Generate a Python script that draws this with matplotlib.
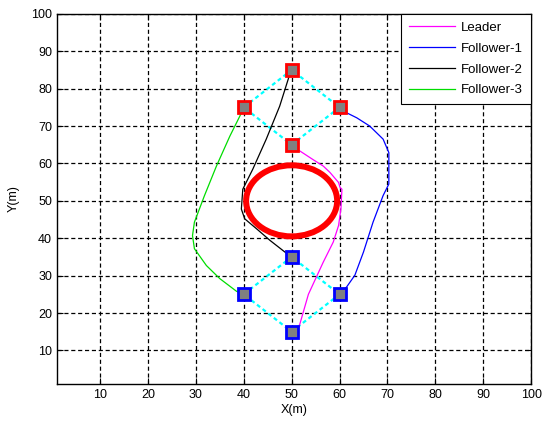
import matplotlib
matplotlib.use('Agg')
import matplotlib.pyplot as plt
from matplotlib.patches import Circle

plt.rcParams['font.family'] = ['Liberation Sans', 'DejaVu Sans']

# formation: start (blue edge) and goal (red edge) positions
start_x = [50, 60, 50, 40]
start_y = [15, 25, 35, 25]
goal_x = [50, 60, 50, 40]
goal_y = [65, 75, 85, 75]

# obstacle
obs_center = (50, 50)
obs_radius = 9.5

# trajectories
leader_x = [50.0, 51.5, 53.5, 56.6, 58.7, 59.8, 60.3, 60.5, 60.1, 59.8, 58.0, 56.6, 54.5, 51.4, 50.0]
leader_y = [15.0, 16.1, 25.0, 33.6, 39.0, 43.4, 48.0, 53.1, 53.6, 54.9, 57.6, 59.3, 61.0, 63.6, 65.0]

f1_x = [60.0, 61.5, 63.2, 65.0, 67.0, 69.1, 70.3, 70.3, 69.1, 66.3, 63.6, 61.4, 60.0]
f1_y = [25.0, 27.0, 30.1, 36.3, 44.3, 51.4, 54.5, 62.9, 66.5, 70.0, 72.2, 73.6, 75.0]

f2_x = [50.0, 48.6, 45.5, 42.7, 40.2, 39.5, 39.8, 41.9, 44.7, 47.5, 49.6, 50.0]
f2_y = [35.0, 36.3, 39.4, 42.5, 45.2, 47.8, 53.1, 58.5, 66.5, 75.3, 83.8, 85.0]

f3_x = [40.0, 38.5, 35.0, 32.2, 29.7, 29.3, 29.7, 31.8, 34.3, 37.1, 39.2, 40.0]
f3_y = [25.0, 25.8, 29.2, 32.7, 37.2, 40.7, 44.3, 51.4, 59.3, 67.3, 72.7, 75.0]

ticks = [10, 20, 30, 40, 50, 60, 70, 80, 90, 100]

fig = plt.figure(figsize=(5.5, 4.33), dpi=100)
ax = fig.add_axes([0.1036, 0.113, 0.862, 0.855])

# diamond outlines of the formation
order = [0, 1, 2, 3, 0]
ax.plot([start_x[i] for i in order], [start_y[i] for i in order],
        color='cyan', linestyle=(0, (1.8, 1.4)), linewidth=1.6, zorder=2)
ax.plot([goal_x[i] for i in order], [goal_y[i] for i in order],
        color='cyan', linestyle=(0, (1.8, 1.4)), linewidth=1.6, zorder=2)

ax.add_patch(Circle(obs_center, obs_radius, fill=False, edgecolor='red',
                    linewidth=4.3, zorder=3))

ax.plot(leader_x, leader_y, color='magenta', linewidth=0.9, label='Leader', zorder=4)
ax.plot(f1_x, f1_y, color='blue', linewidth=0.9, label='Follower-1', zorder=4)
ax.plot(f2_x, f2_y, color='black', linewidth=0.9, label='Follower-2', zorder=4)
ax.plot(f3_x, f3_y, color='#00dd00', linewidth=0.9, label='Follower-3', zorder=4)

ax.plot(start_x, start_y, linestyle='none', marker='s', markersize=9,
        markerfacecolor='#808080', markeredgecolor='blue', markeredgewidth=2, zorder=5)
ax.plot(goal_x, goal_y, linestyle='none', marker='s', markersize=9,
        markerfacecolor='#808080', markeredgecolor='red', markeredgewidth=2, zorder=5)

ax.set_xlim(1, 100)
ax.set_ylim(1, 100)
ax.set_xticks(ticks)
ax.set_yticks(ticks)
ax.tick_params(direction='in', top=True, right=True, labelsize=9, length=4)
ax.grid(True, color='black', linestyle=(0, (3.3, 2.2)), linewidth=0.9)
for s in ax.spines.values():
    s.set_linewidth(1.0)

ax.set_xlabel('X(m)', fontsize=9, labelpad=2)
ax.set_ylabel('Y(m)', fontsize=9, labelpad=8)

leg = ax.legend(loc='upper right', fontsize=9.5, fancybox=False, framealpha=1,
                edgecolor='black', borderaxespad=0, handlelength=3.5,
                handletextpad=0.45, labelspacing=0.65, borderpad=0.6)
leg.get_frame().set_linewidth(0.8)

fig.savefig('out.png', dpi=100)
